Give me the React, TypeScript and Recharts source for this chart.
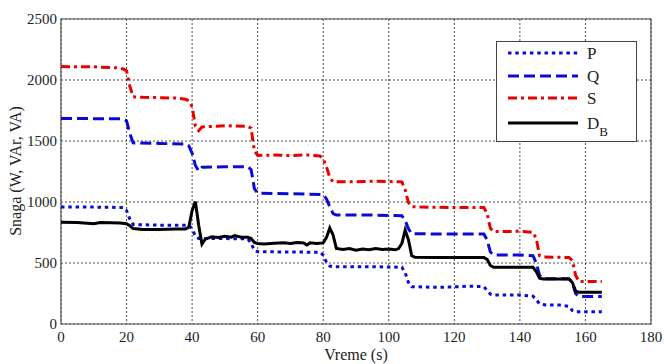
import { LineChart, Line, XAxis, YAxis, CartesianGrid, Legend, ReferenceArea } from "recharts";

// [time (s), value]
const P_DATA = [
  [0, 960], [10, 958], [19, 955], [20, 930], [21, 860], [22, 815], [30, 810], [39, 810], [40, 780],
  [41, 720], [42, 700], [50, 700], [57, 698], [58, 660], [59, 605], [60, 593], [70, 590], [79, 588],
  [80, 565], [81, 505], [82, 475], [83, 470], [95, 470], [104, 465], [105, 420], [106, 340], [107, 306],
  [115, 300], [125, 310], [129, 306], [130, 275], [131, 245], [132, 238], [140, 238], [144, 228],
  [145, 200], [146, 165], [148, 156], [152, 156], [155, 145], [156, 110], [157, 100], [165, 100],
];
const Q_DATA = [
  [0, 1685], [18, 1682], [20, 1665], [21, 1560], [22, 1485], [30, 1480], [38, 1475], [39, 1460],
  [40, 1400], [41, 1300], [42, 1255], [43, 1285], [50, 1288], [57, 1290], [58, 1265], [59, 1110],
  [60, 1072], [70, 1068], [80, 1060], [81, 1025], [82, 960], [83, 905], [84, 893], [95, 893],
  [104, 888], [105, 850], [106, 780], [107, 740], [115, 738], [129, 738], [130, 690], [131, 590],
  [132, 566], [140, 566], [144, 560], [145, 500], [146, 400], [147, 372], [155, 370], [156, 340],
  [157, 250], [158, 225], [165, 225],
];
const S_DATA = [
  [0, 2110], [10, 2108], [17, 2100], [19, 2090], [20, 2075], [21, 1950], [22, 1862], [25, 1858],
  [35, 1852], [38, 1842], [39, 1830], [40, 1780], [41, 1620], [42, 1585], [43, 1615], [50, 1625],
  [57, 1620], [58, 1605], [59, 1420], [60, 1382], [65, 1385], [70, 1380], [75, 1386], [79, 1378],
  [80, 1355], [81, 1290], [82, 1200], [83, 1165], [90, 1165], [95, 1170], [104, 1165], [105, 1100],
  [106, 995], [107, 962], [110, 958], [120, 955], [129, 955], [130, 905], [131, 785], [132, 757],
  [140, 760], [144, 752], [145, 700], [146, 560], [147, 550], [155, 545], [156, 520], [157, 400],
  [158, 348], [165, 348],
];
const DB_DATA = [
  [0, 835], [5, 832], [10, 822], [12, 832], [18, 828], [20, 822], [21, 805], [22, 782], [25, 775],
  [30, 775], [35, 778], [38, 778], [39, 795], [40, 930], [41, 1003], [42, 810], [43, 655], [44, 695],
  [46, 715], [48, 710], [50, 720], [52, 712], [53, 725], [55, 712], [57, 712], [58, 700], [59, 668],
  [60, 660], [62, 655], [65, 662], [68, 665], [70, 660], [72, 668], [74, 665], [75, 648], [76, 665],
  [78, 660], [80, 665], [81, 710], [82, 787], [83, 730], [84, 620], [86, 610], [88, 618], [90, 605],
  [92, 615], [94, 608], [96, 618], [98, 610], [100, 615], [102, 608], [103, 618], [104, 660],
  [105, 770], [106, 690], [107, 560], [108, 547], [115, 545], [125, 545], [129, 545], [130, 530],
  [131, 480], [132, 465], [140, 465], [144, 465], [145, 430], [146, 375], [147, 369], [155, 369],
  [156, 340], [157, 272], [158, 260], [165, 260],
];

const X_TICKS = [0, 20, 40, 60, 80, 100, 120, 140, 160, 180];
const Y_TICKS = [0, 500, 1000, 1500, 2000, 2500];

const SERIES = [
  { key: "P", sub: "", data: P_DATA, color: "#0b0bd8", dash: "3.5 3.8" },
  { key: "Q", sub: "", data: Q_DATA, color: "#0b0bd8", dash: "11 5" },
  { key: "S", sub: "", data: S_DATA, color: "#e80000", dash: "9 4 3 4" },
  { key: "D", sub: "B", data: DB_DATA, color: "#000000", dash: undefined },
];

const FONT = '"Liberation Serif", "Times New Roman", Times, Tinos, "Noto Serif", "DejaVu Serif", FreeSerif, serif';
const TXT = { fontFamily: FONT };

function LegendBox() {
  return (
    <svg width={142} height={102}>
      <rect x={0.5} y={0.5} width={140} height={100} fill="#fff" stroke="#444" strokeWidth={1} />
      {SERIES.map((s, i) => {
        const y = [12, 35, 57, 82][i];
        return (
          <g key={s.key + s.sub}>
            <line x1={12} x2={82} y1={y} y2={y} stroke={s.color} strokeWidth={3} strokeDasharray={s.dash} />
            <text x={91} y={y + 6} fontSize={17} style={TXT} fill="#222">
              {s.key}
              {s.sub && (
                <tspan dy={7} fontSize={13}>
                  {s.sub}
                </tspan>
              )}
            </text>
          </g>
        );
      })}
    </svg>
  );
}

export default function App() {
  const tick = { fill: "#222", fontSize: 15, style: TXT };
  return (
    <div style={{ position: "absolute", left: 0, top: 0, width: 664, height: 364, background: "#fff", fontFamily: FONT }}>
      <LineChart width={664} height={364} margin={{ top: 19, right: 13, bottom: 0, left: 0 }} style={TXT}>
        <CartesianGrid stroke="#222" strokeWidth={0.8} strokeDasharray="2 2" />
        <XAxis
          type="number"
          dataKey="t"
          domain={[0, 180]}
          ticks={X_TICKS}
          allowDataOverflow
          height={40}
          tickSize={0}
          tickMargin={7}
          axisLine={false}
          tick={tick}
          label={{
            content: () => (
              <text x={356} y={354} textAnchor="middle" dominantBaseline="central" fontSize={16} fill="#222" style={TXT}>
                Vreme (s)
              </text>
            ),
          }}
        />
        <YAxis
          type="number"
          domain={[0, 2500]}
          ticks={Y_TICKS}
          width={61}
          tickSize={0}
          tickMargin={4}
          axisLine={false}
          tick={tick}
          label={{
            content: () => (
              <text x={15} y={171} transform="rotate(-90 15 171)" textAnchor="middle" dominantBaseline="central" fontSize={16} fill="#222" style={TXT}>
                Snaga (W, VAr, VA)
              </text>
            ),
          }}
        />
        <ReferenceArea x1={0} x2={180} y1={0} y2={2500} fill="none" stroke="#555" strokeWidth={1.2} />
        {SERIES.map((s) => (
          <Line
            key={s.key + s.sub}
            data={s.data.map(([t, v]) => ({ t, v }))}
            dataKey="v"
            name={s.key + s.sub}
            type="linear"
            stroke={s.color}
            strokeWidth={3}
            strokeDasharray={s.dash}
            dot={false}
            activeDot={false}
            isAnimationActive={false}
          />
        ))}
        <Legend
          layout="vertical"
          align="center"
          verticalAlign="middle"
          content={() => <LegendBox />}
          wrapperStyle={{ position: "absolute", left: 496, top: 41, width: 142, height: 102 }}
        />
      </LineChart>
    </div>
  );
}
